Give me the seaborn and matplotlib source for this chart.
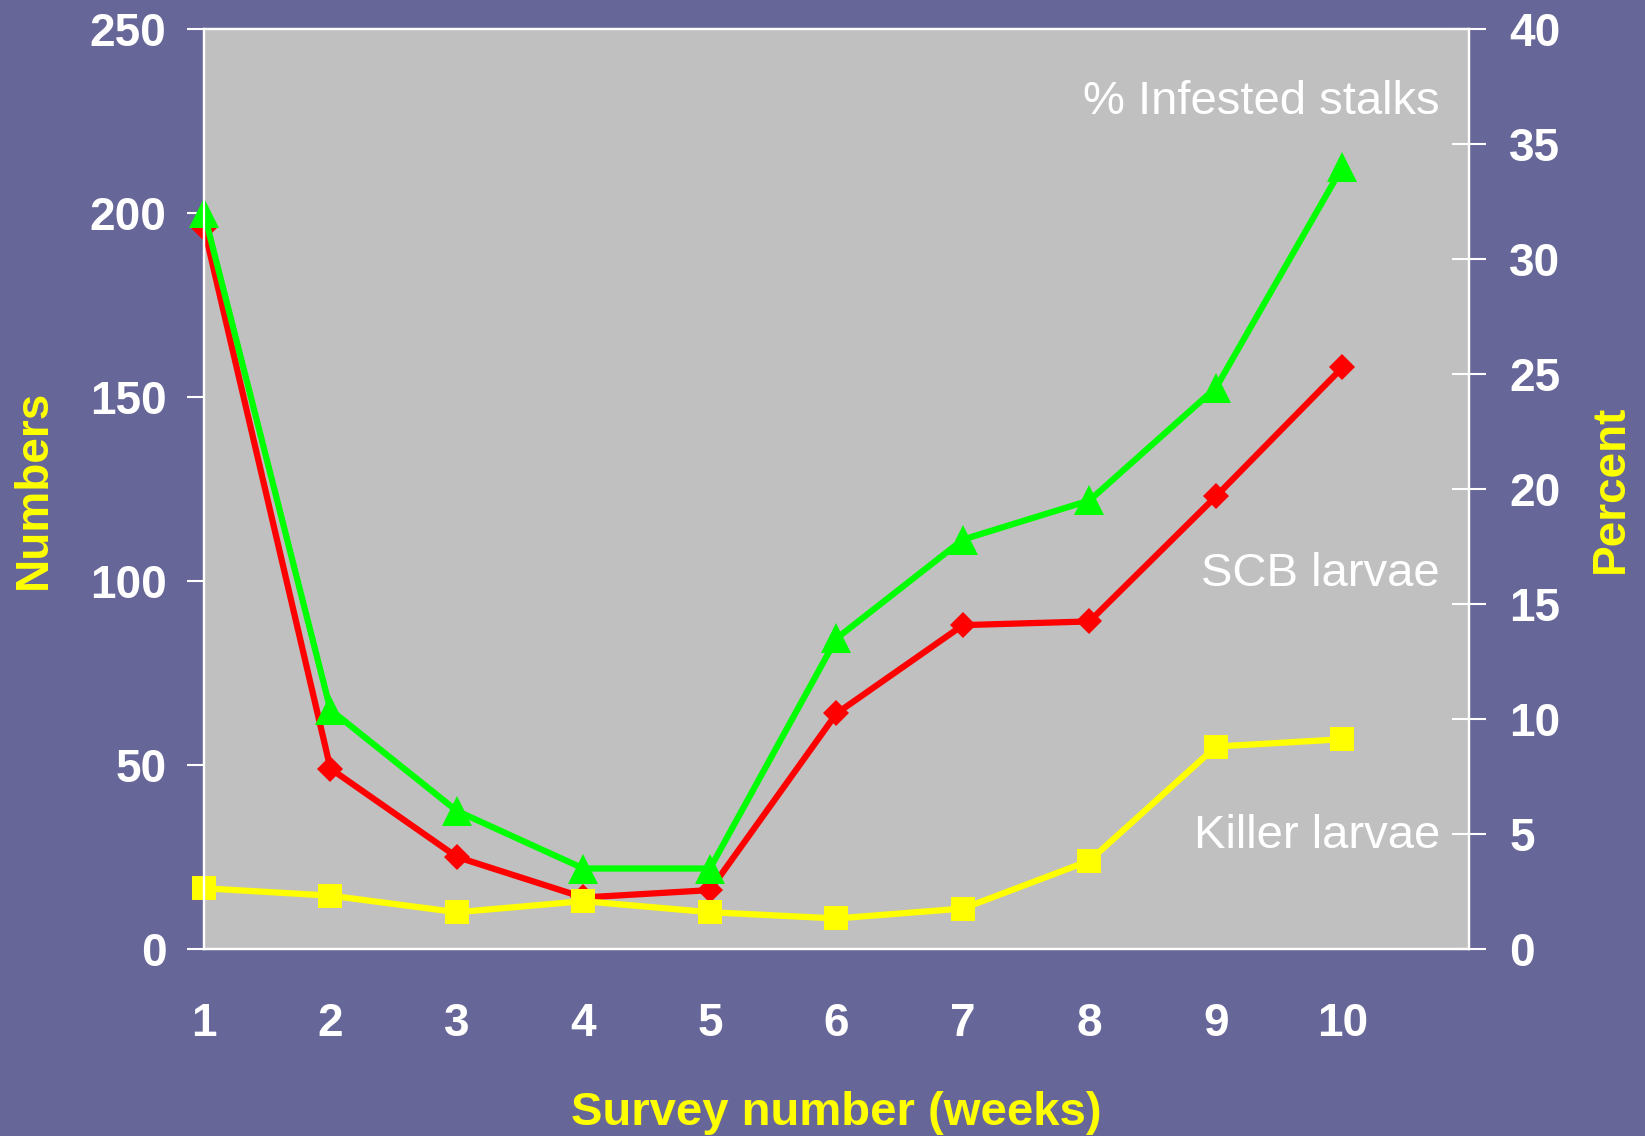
import matplotlib
matplotlib.use('Agg')
import numpy as np
import pandas as pd
import matplotlib.pyplot as plt
import seaborn as sns

weeks = [1, 2, 3, 4, 5, 6, 7, 8, 9, 10]
infested_pct = [32.0, 10.4, 6.0, 3.5, 3.5, 13.5, 17.8, 19.5, 24.4, 34.0]
scb_larvae = [196, 49, 25, 14, 16, 64, 88, 89, 123, 158]
killer_larvae = [16.5, 14.5, 10, 13, 10, 8.3, 11, 24, 55, 57]

left_ticks = [0, 50, 100, 150, 200, 250]
right_ticks = [0, 5, 10, 15, 20, 25, 30, 35, 40]
x_ticks = [1, 2, 3, 4, 5, 6, 7, 8, 9, 10, 11]
x_labels = ['1', '2', '3', '4', '5', '6', '7', '8', '9', '10', '']

bg = '#666699'
plot_bg = '#C0C0C0'

sns.set_theme(style='white')
plt.rcParams['font.family'] = ['Liberation Sans', 'DejaVu Sans']

fig = plt.figure(figsize=(16.45, 11.36), dpi=100, facecolor=bg)
ax = fig.add_axes([0.124, 0.1646, 0.769, 0.81])
ax.set_facecolor(plot_bg)
ax2 = ax.twinx()
ax2.patch.set_visible(False)

line_kw = dict(linewidth=4.5, clip_on=False, markeredgewidth=0)
sns.lineplot(x=weeks, y=scb_larvae, ax=ax, color='#FF0000', marker='D',
             markersize=13.5, markeredgecolor='#FF0000', **line_kw)
sns.lineplot(x=weeks, y=killer_larvae, ax=ax, color='#FFFF00', marker='s',
             markersize=17.5, markeredgecolor='#FFFF00', **line_kw)
sns.lineplot(x=weeks, y=infested_pct, ax=ax2, color='#00FF00', marker='^',
             markersize=21, markeredgecolor='#00FF00', **line_kw)

ax.set_xlim(1, 11)
ax.set_ylim(0, 250)
ax2.set_ylim(0, 40)
ax.set_xticks(x_ticks)
ax.set_xticklabels(x_labels)
ax.set_yticks(left_ticks)
ax2.set_yticks(right_ticks)

for a in (ax, ax2):
    for s in a.spines.values():
        s.set_color('white')
        s.set_linewidth(1.6)

ax.tick_params(axis='x', direction='out', length=12, width=1.5, color='white',
               pad=26, labelsize=33, labelcolor='white')
ax.tick_params(axis='y', direction='out', length=12, width=1.5, color='white',
               pad=15, labelsize=33, labelcolor='white', left=True)
ax2.tick_params(axis='y', direction='inout', length=24, width=1.5, color='white',
                pad=17, labelsize=33, labelcolor='white', right=True)
for lab in ax.get_xticklabels() + ax.get_yticklabels() + ax2.get_yticklabels():
    lab.set_fontweight('bold')

ax.set_ylabel('Numbers', color='#FFFF00', fontsize=33, fontweight='bold')
ax2.set_ylabel('Percent', color='#FFFF00', fontsize=33, fontweight='bold', rotation=90)
ax.set_xlabel('Survey number (weeks)', color='#FFFF00', fontsize=34, fontweight='bold')
ax.yaxis.set_label_coords(-0.117, 0.5)
ax2.yaxis.set_label_coords(1.095, 0.5)
ax.xaxis.set_label_coords(0.4996, -0.154)

txt_kw = dict(transform=ax.transAxes, ha='right', va='center', color='white', fontsize=34)
ax.text(0.977, 0.921, '% Infested stalks', **txt_kw)
ax.text(0.977, 0.408, 'SCB larvae', **txt_kw)
ax.text(0.977, 0.123, 'Killer larvae', **txt_kw)

fig.savefig('out.png', dpi=100, facecolor=bg)
